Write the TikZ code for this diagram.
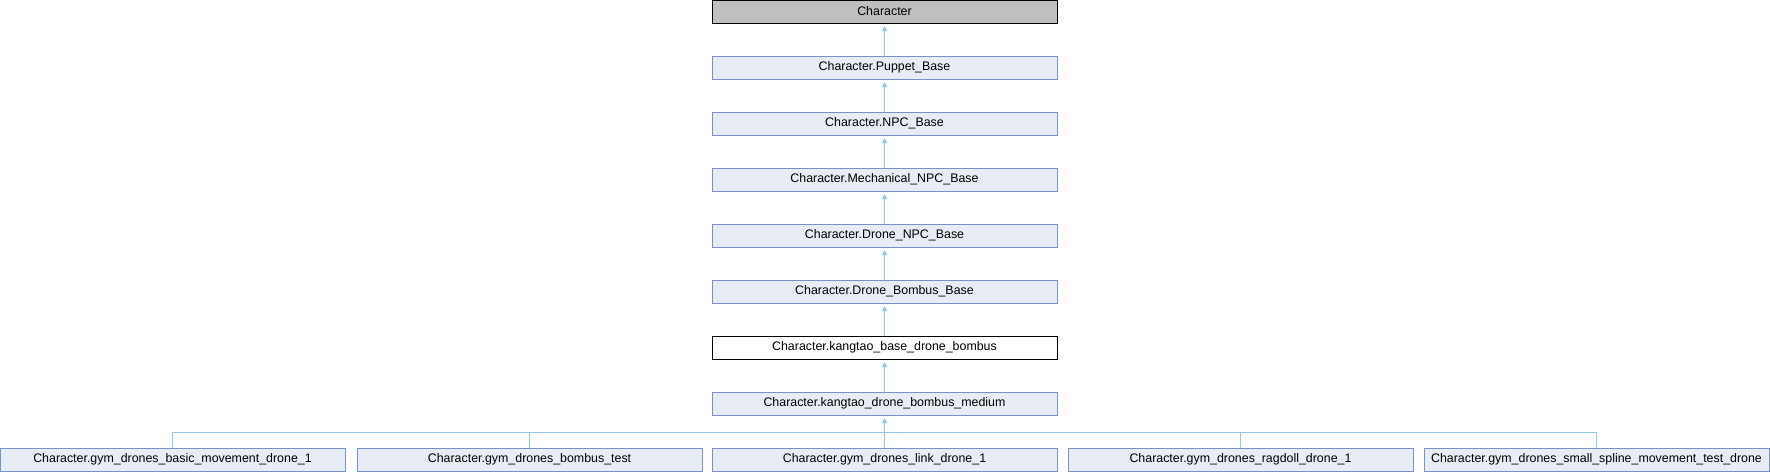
\documentclass[tikz,border=0pt]{standalone}
\usepackage{fontspec}
\setmainfont{Liberation Sans}
\usetikzlibrary{arrows.meta}
\definecolor{edgeblue}{RGB}{150,200,230}
\definecolor{boxfill}{RGB}{232,236,244}
\definecolor{boxline}{RGB}{122,145,196}
\definecolor{rootfill}{RGB}{191,191,191}
\begin{document}
\begin{tikzpicture}[x=0.75pt,y=-0.75pt,
  cls/.style={draw=boxline,fill=boxfill,line width=0.75pt,minimum width=258.75pt,minimum height=17.25pt,inner sep=0pt,font=\fontsize{9.3}{11}\selectfont,text=black},
  rootcls/.style={cls,draw=black,fill=rootfill},
  curcls/.style={cls,draw=black,fill=white},
  edge/.style={draw=edgeblue,line width=0.75pt},
  inh/.style={edge,-{Triangle[width=3.75pt,length=3.75pt]},shorten >=2pt}]
\useasboundingbox (0,0) rectangle (1770,472);
\node[rootcls] (root) at (884.5,11.5) {Character};
\node[cls] (puppet) at (884.5,67.5) {Character.Puppet\_Base};
\node[cls] (npc) at (884.5,123.5) {Character.NPC\_Base};
\node[cls] (mech) at (884.5,179.5) {Character.Mechanical\_NPC\_Base};
\node[cls] (dnpc) at (884.5,235.5) {Character.Drone\_NPC\_Base};
\node[cls] (bbase) at (884.5,291.5) {Character.Drone\_Bombus\_Base};
\node[curcls] (kbase) at (884.5,347.5) {Character.kangtao\_base\_drone\_bombus};
\node[cls] (medium) at (884.5,403.5) {Character.kangtao\_drone\_bombus\_medium};
\node[cls] (c1) at (172.5,459.5) {Character.gym\_drones\_basic\_movement\_drone\_1};
\node[cls] (c2) at (529.5,459.5) {Character.gym\_drones\_bombus\_test};
\node[cls] (c3) at (884.5,459.5) {Character.gym\_drones\_link\_drone\_1};
\node[cls] (c4) at (1240.5,459.5) {Character.gym\_drones\_ragdoll\_drone\_1};
\node[cls] (c5) at (1596.5,459.5) {Character.gym\_drones\_small\_spline\_movement\_test\_drone};
\coordinate (bus) at (884.5,432);
\draw[inh] (puppet.north) -- (root.south);
\draw[inh] (npc.north) -- (puppet.south);
\draw[inh] (mech.north) -- (npc.south);
\draw[inh] (dnpc.north) -- (mech.south);
\draw[inh] (bbase.north) -- (dnpc.south);
\draw[inh] (kbase.north) -- (bbase.south);
\draw[inh] (medium.north) -- (kbase.south);
\draw[edge] (c1.north) |- (bus);
\draw[edge] (c2.north) |- (bus);
\draw[edge] (c3.north) -- (bus);
\draw[edge] (c4.north) |- (bus);
\draw[edge] (c5.north) |- (bus);
\draw[inh] (bus) -- (medium.south);
\end{tikzpicture}
\end{document}
